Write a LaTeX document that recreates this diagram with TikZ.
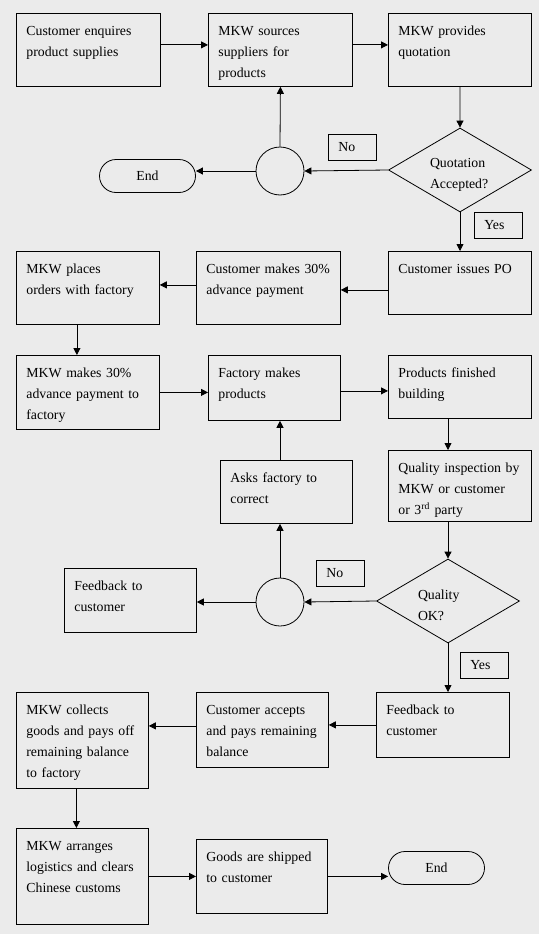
\documentclass[tikz,border=0pt]{standalone}
\usepackage{fontspec}
\setmainfont{Liberation Serif}
\usetikzlibrary{arrows.meta,shapes.geometric,shapes.misc}
\definecolor{paper}{HTML}{EBEBEB}
\tikzset{>={Triangle[length=7pt,width=7pt]},every node/.style={font=\fontsize{13.8}{21}\selectfont},
  flow/.style={->,line width=.8pt},
  stepbox/.style 2 args={draw,line width=.8pt,anchor=north west,align=left,inner xsep=10pt,inner ysep=0pt,text height=22.5pt,text width=#1,text depth=#2},
  decision/.style={draw,line width=.8pt,diamond,aspect=1.7,inner sep=0pt,text width=60pt,text height=19pt,align=left,minimum width=143pt,minimum height=84pt},
  joint/.style={draw,line width=.8pt,circle,minimum size=48pt,inner sep=0pt},
  terminal/.style={draw,line width=.8pt,rounded rectangle,minimum width=96pt,minimum height=33pt,inner sep=0pt},
  tag/.style={draw,line width=.8pt,anchor=north west,text width=28pt,inner xsep=10pt,inner ysep=0pt,minimum height=26pt,align=left}}

\begin{document}
\begin{tikzpicture}[x=1pt,y=-1pt]
\fill[paper] (0,0) rectangle (539,934);\useasboundingbox (0,0) rectangle (539,934);
% quotation stage
\node[stepbox={124pt}{50.5pt}] (enquire) at (16,13) {Customer enquires\\product supplies};
\node[stepbox={124pt}{50.5pt}] (source) at (208,13) {MKW sources\\suppliers for\\products};
\node[stepbox={123pt}{50.5pt}] (quote) at (388,13) {MKW provides\\quotation};
\node[decision] (accepted) at (460,170) {Quotation\\Accepted?};
\node[joint] (loop1) at (280,171) {};
\node[terminal] (end1) at (147.5,176) {End};
\node[tag] (no1) at (328,134) {No};\node[tag] (yes1) at (474,212) {Yes};
% order and production
\node[stepbox={123pt}{40.5pt}] (po) at (388,251) {Customer issues PO};
\node[stepbox={124pt}{50.5pt}] (pay) at (196,251) {Customer makes 30\%\\advance payment};
\node[stepbox={123pt}{50.5pt}] (place) at (16,251) {MKW places\\orders with factory};
\node[stepbox={123pt}{51.5pt}] (advance) at (16,355) {MKW makes 30\%\\advance payment to\\factory};
\node[stepbox={112pt}{42.5pt}] (make) at (208,355) {Factory makes\\products};
\node[stepbox={123pt}{40.5pt}] (finished) at (388,355) {Products finished\\building};
% inspection
\node[stepbox={123pt}{48.5pt}] (inspect) at (388,450) {Quality inspection by\\MKW or customer\\or 3\textsuperscript{rd} party};
\node[stepbox={112pt}{40.5pt}] (correct) at (220,460) {Asks factory to\\correct};
\node[decision] (quality) at (448,601) {Quality\\OK?};
\node[joint] (loop2) at (280,602) {};
\node[stepbox={112pt}{41.5pt}] (feedleft) at (64,568) {Feedback to\\customer};
\node[tag] (no2) at (316,560) {No};\node[tag] (yes2) at (460,652) {Yes};
% payment and shipping
\node[stepbox={113pt}{42.5pt}] (feedright) at (376,692) {Feedback to\\customer};
\node[stepbox={112pt}{52.5pt}] (accept) at (196,692) {Customer accepts\\and pays remaining\\balance};
\node[stepbox={112pt}{73.5pt}] (collect) at (16,692) {MKW collects\\goods and pays off\\remaining balance\\to factory};
\node[stepbox={112pt}{73.5pt}] (arrange) at (16,828) {MKW arranges\\logistics and clears\\Chinese customs};
\node[stepbox={111pt}{51.5pt}] (ship) at (196,839) {\makebox[108pt][s]{Goods are shipped}\\to customer};
\node[terminal] (end2) at (436.5,868) {End};
% connectors
\draw[flow] ([yshift=5pt]enquire.east) -- ([yshift=5pt]enquire.east -| source.west);
\draw[flow] ([yshift=5pt]source.east) -- ([yshift=5pt]source.east -| quote.west);
\draw[flow] (quote.south) -- (accepted.north);
\draw[flow] (accepted.west) -- (loop1.east);
\draw[flow] (loop1.north) -- (source.south);
\draw[flow] (loop1.west) -- (loop1.west -| end1.east);
\draw[flow] (accepted.south) -- (accepted.south |- po.north);
\draw[flow] ([yshift=-7pt]po.west) -- ([yshift=-7pt]po.west -| pay.east);
\draw[flow] ([yshift=3pt]pay.west) -- ([yshift=3pt]pay.west -| place.east);
\draw[flow] ([xshift=-11pt]place.south) -- ([xshift=-11pt]place.south |- advance.north);
\draw[flow] (advance.east) -- (advance.east -| make.west);
\draw[flow] ([yshift=-3pt]make.east) -- ([yshift=-3pt]make.east -| finished.west);
\draw[flow] (finished.south -| quality.north) -- (inspect.north -| quality.north);
\draw[flow] (inspect.south -| quality.north) -- (quality.north);
\draw[flow] (quality.west) -- (loop2.east);
\draw[flow] (loop2.north) -- (loop2.north |- correct.south);
\draw[flow] (loop2.north |- correct.north) -- (loop2.north |- make.south);
\draw[flow] (loop2.west) -- (loop2.west -| feedleft.east);
\draw[flow] (quality.south) -- (quality.south |- feedright.north);
\draw[flow] (feedright.west) -- (feedright.west -| accept.east);
\draw[flow] ([yshift=4pt]accept.west) -- ([yshift=4pt]accept.west -| collect.east);
\draw[flow] ([xshift=-6pt]collect.south) -- ([xshift=-6pt]collect.south |- arrange.north);
\draw[flow] (arrange.east) -- (arrange.east -| ship.west);
\draw[flow] (ship.east) -- (ship.east -| end2.west);
\end{tikzpicture}
\end{document}
